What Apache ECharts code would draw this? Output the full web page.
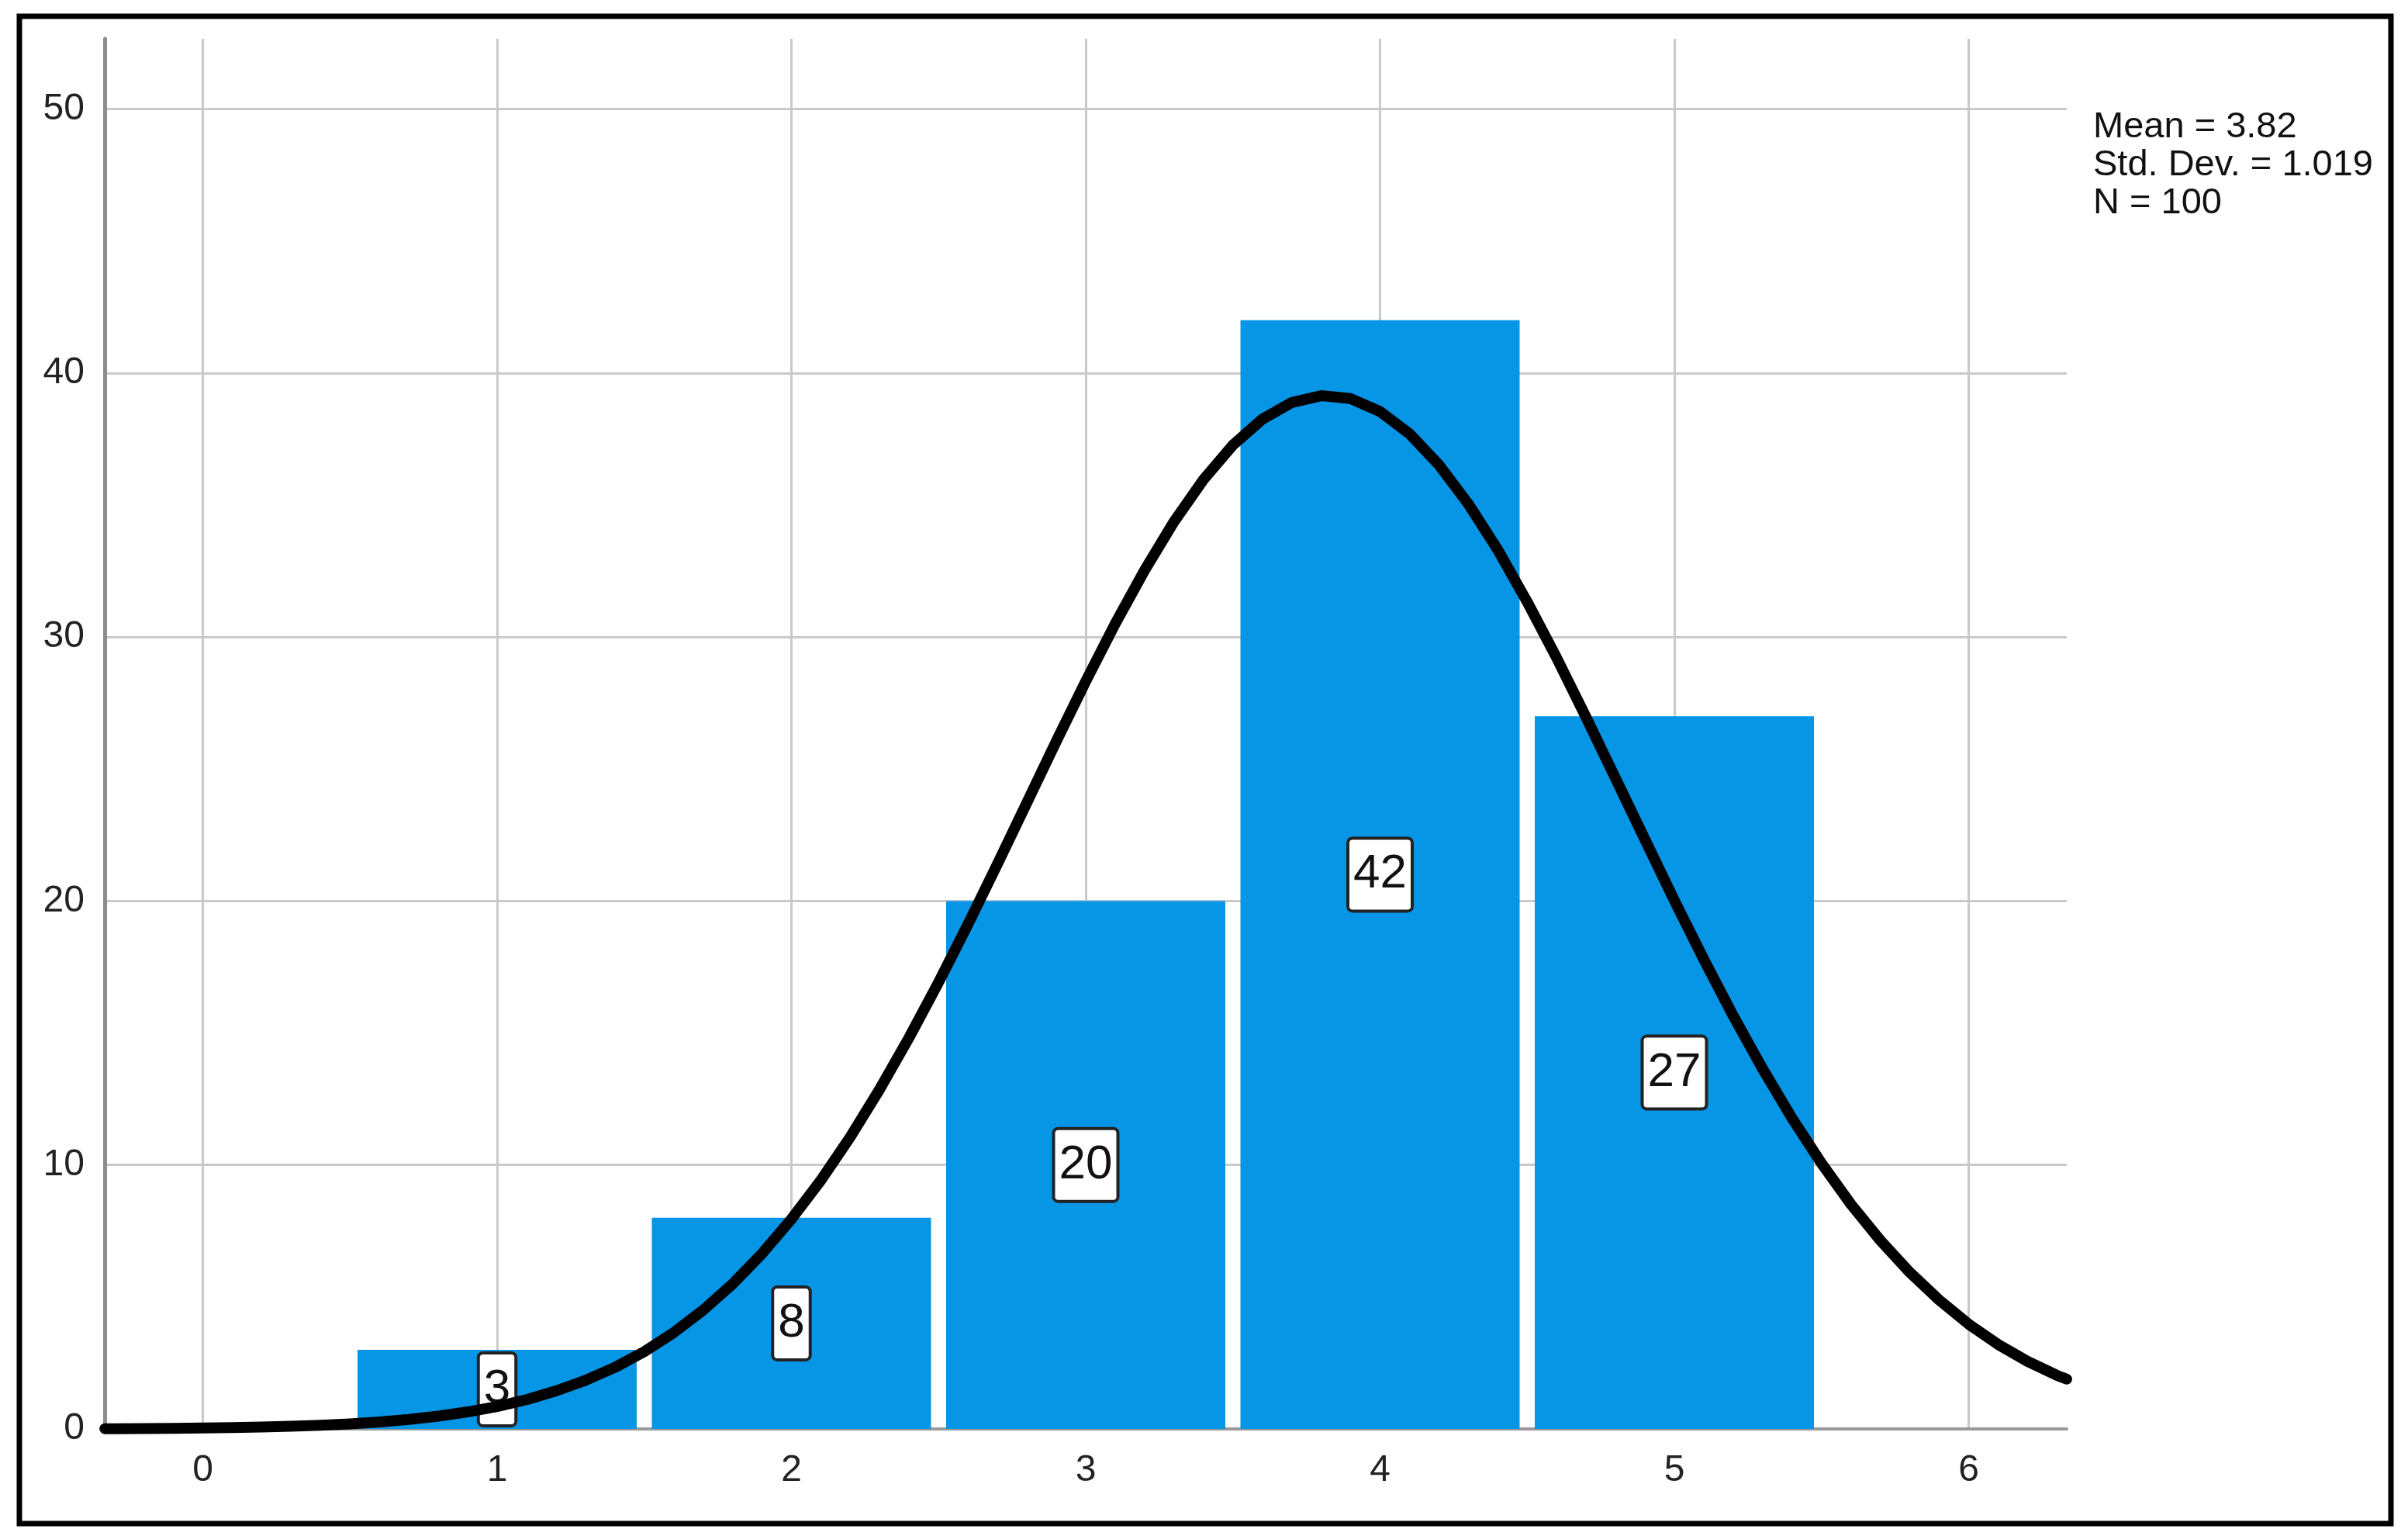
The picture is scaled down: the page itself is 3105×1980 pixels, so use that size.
<!DOCTYPE html>
<html>
<head>
<meta charset="utf-8">
<script src="https://cdn.jsdelivr.net/npm/echarts@6/dist/echarts.min.js"></script>
<style>
  html, body { margin: 0; padding: 0; background: #fff; }
  #chart { width: 3105px; height: 1980px; }
</style>
</head>
<body>
<div id="chart"></div>
<script>
// histogram bins
const binCenters = [1, 2, 3, 4, 5]
const binCounts = [3, 8, 20, 42, 27]

// tick labels
const xTicks = [0, 1, 2, 3, 4, 5, 6]
const yTicks = [0, 10, 20, 30, 40, 50]

// normal curve
const curveX = [-0.333, -0.3, -0.2, -0.1, 0, 0.1, 0.2, 0.3, 0.4, 0.5, 0.6, 0.7, 0.8, 0.9,
  1, 1.1, 1.2, 1.3, 1.4, 1.5, 1.6, 1.7, 1.8, 1.9, 2, 2.1, 2.2, 2.3, 2.4, 2.5, 2.6, 2.7, 2.8, 2.9,
  3, 3.1, 3.2, 3.3, 3.4, 3.5, 3.6, 3.7, 3.8, 3.9, 4, 4.1, 4.2, 4.3, 4.4, 4.5, 4.6, 4.7, 4.8, 4.9,
  5, 5.1, 5.2, 5.3, 5.4, 5.5, 5.6, 5.7, 5.8, 5.9, 6, 6.1, 6.2, 6.3, 6.333]
const curveY = [0.01, 0.011, 0.016, 0.024, 0.035, 0.05, 0.071, 0.1, 0.14, 0.194, 0.266, 0.361, 0.485, 0.645,
  0.85, 1.11, 1.44, 1.84, 2.33, 2.93, 3.65, 4.5, 5.49, 6.64, 7.95, 9.42, 11.06, 12.87, 14.83, 16.92, 19.12, 21.4, 23.72, 26.05,
  28.32, 30.5, 32.53, 34.37, 35.96, 37.27, 38.25, 38.88, 39.14, 39.03, 38.54, 37.7, 36.52, 35.04, 33.3, 31.33, 29.21, 26.96, 24.65, 22.33,
  20.02, 17.79, 15.65, 13.64, 11.77, 10.06, 8.51, 7.14, 5.93, 4.88, 3.97, 3.2, 2.56, 2.03, 1.89]

const statsLines = ['Mean = 3.82', 'Std. Dev. = 1.019', 'N = 100']

const chart = echarts.init(document.getElementById('chart'))
chart.setOption({
  animation: false,
  backgroundColor: '#fff',
  textStyle: { fontFamily: 'Liberation Sans, Arial, sans-serif' },
  grid: { left: 135, right: 440, top: 50, bottom: 138 },
  xAxis: {
    type: 'value',
    min: -1 / 3,
    max: 19 / 3,
    axisLine: { show: true, onZero: false, lineStyle: { color: '#999', width: 4 } },
    axisTick: { show: false, customValues: xTicks },
    axisLabel: { customValues: xTicks, color: '#222', fontSize: 48, margin: 30 },
    splitLine: { show: true, lineStyle: { color: '#c9c9c9', width: 3 } }
  },
  yAxis: {
    type: 'value',
    min: 0,
    max: 52.66,
    axisLine: { show: true, onZero: false, lineStyle: { color: '#8c8c8c', width: 5 } },
    axisTick: { show: false, customValues: yTicks },
    axisLabel: { customValues: yTicks, color: '#222', fontSize: 48, margin: 26 },
    splitLine: { show: true, lineStyle: { color: '#c9c9c9', width: 3 } }
  },
  series: [
    {
      type: 'bar',
      z: 2,
      barWidth: 360,
      data: binCenters.map((x, i) => [x, binCounts[i]]),
      itemStyle: { color: '#0795e5' },
      label: {
        show: true,
        position: 'inside',
        formatter: p => String(p.value[1]),
        color: '#111',
        fontSize: 62,
        lineHeight: 62,
        textBorderWidth: 0,
        backgroundColor: '#fff',
        borderColor: '#222',
        borderWidth: 4,
        borderRadius: 4,
        padding: [14, 5, 14, 5]
      }
    },
    {
      type: 'line',
      z: 5,
      smooth: false,
      symbol: 'none',
      data: curveX.map((x, i) => [x, curveY[i]]),
      lineStyle: { color: '#000', width: 14, join: 'round', cap: 'round' }
    }
  ],
  graphic: [
    {
      type: 'rect',
      shape: { x: 25, y: 21, width: 3058, height: 1943 },
      style: { fill: 'none', stroke: '#000', lineWidth: 7 }
    },
    {
      type: 'text',
      left: 2699,
      top: 140,
      style: {
        text: statsLines.join('\n'),
        font: '47px "Liberation Sans", Arial, sans-serif',
        lineHeight: 49,
        fill: '#111'
      }
    }
  ]
})
</script>
</body>
</html>
